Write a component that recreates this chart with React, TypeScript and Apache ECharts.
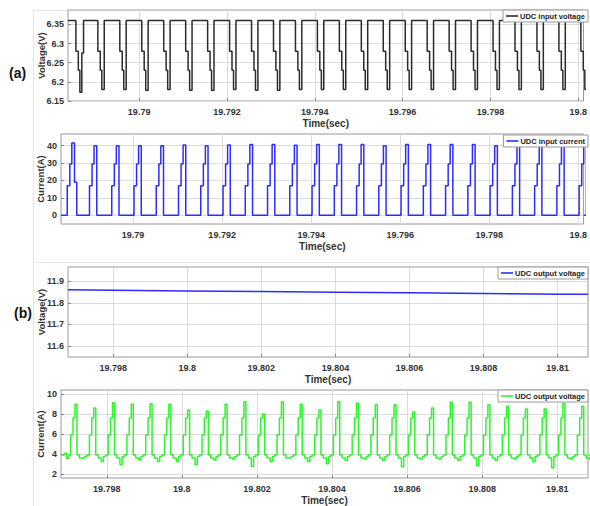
import React, { useEffect, useRef } from "react";
import * as echarts from "echarts";

const FONT = "'Liberation Sans', Arial, sans-serif";
const US = 1e-6;

// ---------- axes ----------
const xRangeA = [19.78838, 19.80012];
const xRangeB = [19.79678, 19.81082];
const xTicksA = [19.79, 19.792, 19.794, 19.796, 19.798, 19.8];
const xTicksB = [19.798, 19.8, 19.802, 19.804, 19.806, 19.808, 19.81];
const yRange1 = [6.15, 6.3875];
const yTicks1 = [6.15, 6.2, 6.25, 6.3, 6.35];
const yRange2 = [-5, 46.7];
const yTicks2 = [0, 10, 20, 30, 40];
const yRange3 = [11.549, 11.967];
const yTicks3 = [11.6, 11.7, 11.8, 11.9];
const yRange4 = [1.58, 10.42];
const yTicks4 = [2, 4, 6, 8, 10];

// ---------- (a) UDC input voltage ----------
const inVoltHigh = 6.36;
const inVoltStepLevels = [6.28, 6.23];
const inVoltStepUs = [0, 55, 90, 145]; // 6.28, 6.23, min, back to high
const inVoltDipStart = [
  19.78856, 19.78906, 19.78956, 19.79006, 19.79056, 19.79106, 19.79156, 19.79206,
  19.79256, 19.79306, 19.79356, 19.79406, 19.79456, 19.79506, 19.79556, 19.79606,
  19.79656, 19.79706, 19.79756, 19.79806, 19.79856, 19.79906, 19.79956, 19.80006,
];
const inVoltDipMin = [
  6.173, 6.18, 6.18, 6.178, 6.18, 6.178, 6.178, 6.18, 6.178, 6.178, 6.18, 6.18,
  6.18, 6.18, 6.18, 6.18, 6.18, 6.18, 6.18, 6.18, 6.18, 6.18, 6.18, 6.18,
];
const inVoltRecover = [6.275]; // only the first dip climbs back in two steps
const inVoltRecoverUs = [135, 174];

// ---------- (a) UDC input current ----------
const inCurStepLevels = [17, 29.5];
const inCurStepUs = [0, 58, 103, 163];
const inCurPulseStart = [
  19.78852, 19.78902, 19.78952, 19.79002, 19.79052, 19.79102, 19.79152, 19.79202,
  19.79252, 19.79302, 19.79352, 19.79402, 19.79452, 19.79502, 19.79552, 19.79602,
  19.79652, 19.79702, 19.79752, 19.79802, 19.79852, 19.79902, 19.79952, 19.80002,
];
const inCurPeak = [
  41.5, 40, 40, 40, 40, 40.4, 40, 40.4, 40.6, 40.6, 40.3, 40.6,
  40.6, 40.6, 40, 40.6, 40.6, 40.6, 40.6, 40, 39.6, 40, 39.6, 40,
];
const inCurFall = [19]; // first pulse steps down through 19 A
const inCurFallUs = [163, 214];

// ---------- (b) UDC output voltage ----------
const outVoltTime = [19.79678, 19.798, 19.8, 19.802, 19.804, 19.806, 19.808, 19.81, 19.81082];
const outVoltValue = [11.861, 11.859, 11.856, 11.853, 11.85, 11.847, 11.844, 11.841, 11.84];

// ---------- (b) output current ----------
const outCurLeadTime = [19.79678, 19.79687, 19.79693, 19.79699];
const outCurLead = [3.9, 4.05, 3.57, 3.9];
const outCurRiseLevels = [5.9, 7.6];
const outCurRiseUs = [-133, -71, -18, 36];
const outCurBaseUs = [36, 100, 180, 240, 300];
const outCurBaseLevels = [3.9, 3.6, 3.75, 3.9];
const outCurPeakTime = [
  19.79717, 19.79767, 19.79817, 19.79867, 19.79917, 19.79967, 19.80017, 19.80067,
  19.80117, 19.80167, 19.80217, 19.80267, 19.80317, 19.80367, 19.80417, 19.80467,
  19.80517, 19.80567, 19.80617, 19.80667, 19.80717, 19.80767, 19.80817, 19.80867,
  19.80917, 19.80967, 19.81017, 19.81067,
];
const outCurPeak = [
  9.0, 8.6, 9.15, 9.0, 9.05, 9.0, 8.4, 8.3, 9.0, 9.25, 8.0, 9.25, 9.0, 8.4,
  9.25, 9.1, 8.95, 8.95, 8.2, 8.6, 9.2, 9.2, 8.95, 8.8, 8.5, 8.5, 9.1, 8.8,
];
const outCurDip = [
  3.6, 3.25, 2.9, 3.4, 3.25, 3.25, 2.9, 3.4, 3.5, 2.75, 3.25, 3.6, 3.25, 3.0,
  3.35, 3.5, 3.35, 2.7, 3.5, 3.5, 3.35, 2.8, 3.35, 3.5, 3.2, 2.6, 3.5, 3.5,
];

function buildInVolt(): number[][] {
  const pts: number[][] = [[xRangeA[0], inVoltHigh]];
  inVoltDipStart.forEach((d, k) => {
    pts.push([d + inVoltStepUs[0] * US, inVoltStepLevels[0]]);
    pts.push([d + inVoltStepUs[1] * US, inVoltStepLevels[1]]);
    pts.push([d + inVoltStepUs[2] * US, inVoltDipMin[k]]);
    if (inVoltRecover[k] !== undefined) {
      pts.push([d + inVoltRecoverUs[0] * US, inVoltRecover[k]]);
      pts.push([d + inVoltRecoverUs[1] * US, inVoltHigh]);
    } else {
      pts.push([d + inVoltStepUs[3] * US, inVoltHigh]);
    }
  });
  pts.push([xRangeA[1], pts[pts.length - 1][1]]);
  return pts;
}

function buildInCur(): number[][] {
  const pts: number[][] = [[xRangeA[0], 0]];
  inCurPulseStart.forEach((s, k) => {
    pts.push([s + inCurStepUs[0] * US, inCurStepLevels[0]]);
    pts.push([s + inCurStepUs[1] * US, inCurStepLevels[1]]);
    pts.push([s + inCurStepUs[2] * US, inCurPeak[k]]);
    if (inCurFall[k] !== undefined) {
      pts.push([s + inCurFallUs[0] * US, inCurFall[k]]);
      pts.push([s + inCurFallUs[1] * US, 0]);
    } else {
      pts.push([s + inCurStepUs[3] * US, 0]);
    }
  });
  pts.push([xRangeA[1], pts[pts.length - 1][1]]);
  return pts;
}

function buildOutVolt(): number[][] {
  return outVoltTime.map((t, i) => [t, outVoltValue[i]]);
}

function buildOutCur(): number[][] {
  const pts: number[][] = outCurLeadTime.map((t, i) => [t, outCurLead[i]]);
  outCurPeakTime.forEach((p, k) => {
    pts.push([p + outCurRiseUs[0] * US, outCurRiseLevels[0]]);
    pts.push([p + outCurRiseUs[1] * US, outCurRiseLevels[1]]);
    pts.push([p + outCurRiseUs[2] * US, outCurPeak[k]]);
    pts.push([p + outCurBaseUs[0] * US, outCurBaseLevels[0]]);
    pts.push([p + outCurBaseUs[1] * US, outCurBaseLevels[1]]);
    pts.push([p + outCurBaseUs[2] * US, outCurDip[k]]);
    pts.push([p + outCurBaseUs[3] * US, outCurBaseLevels[2]]);
    pts.push([p + outCurBaseUs[4] * US, outCurBaseLevels[3]]);
  });
  pts.push([xRangeB[1], pts[pts.length - 1][1]]);
  return pts;
}

const fmt = (v: number) => String(parseFloat(Number(v).toFixed(4)));

const labelStyle = { fontSize: 9, fontWeight: "bold", color: "#333", fontFamily: FONT };
const nameStyle = { fontSize: 10, fontWeight: "bold", color: "#333", fontFamily: FONT };

function makeX(gridIndex: number, range: number[], ticks: number[]) {
  return {
    type: "value",
    gridIndex,
    min: range[0],
    max: range[1],
    name: "Time(sec)",
    nameLocation: "middle",
    nameGap: 17,
    nameMoveOverlap: false,
    nameTextStyle: nameStyle,
    axisLine: { show: false },
    axisTick: { show: true, inside: true, length: 3, customValues: ticks, lineStyle: { color: "#888" } },
    axisLabel: { ...labelStyle, margin: 6, customValues: ticks, formatter: fmt },
    splitLine: { show: true, lineStyle: { color: "#dcdcdc", width: 1 } },
  };
}

function makeY(gridIndex: number, range: number[], ticks: number[], name: string, gap: number) {
  return {
    type: "value",
    gridIndex,
    min: range[0],
    max: range[1],
    name,
    nameLocation: "middle",
    nameGap: gap,
    nameMoveOverlap: false,
    nameTextStyle: { ...nameStyle, fontSize: 9.5 },
    axisLine: { show: false },
    axisTick: { show: true, inside: true, length: 3, customValues: ticks, lineStyle: { color: "#888" } },
    axisLabel: { ...labelStyle, margin: 4, customValues: ticks, formatter: fmt },
    splitLine: { show: true, lineStyle: { color: "#dcdcdc", width: 1 } },
  };
}

function makeLegend(top: number, name: string, color: string) {
  return {
    top,
    right: 2,
    orient: "horizontal",
    selectedMode: false,
    icon: "rect",
    data: [{ name, icon: "rect", itemStyle: { color } }],
    itemWidth: 12,
    itemHeight: 1.6,
    padding: [2, 3, 2, 3],
    backgroundColor: "#fff",
    borderColor: "#9a9a9a",
    borderWidth: 1,
    borderRadius: 0,
    textStyle: { fontSize: 7.5, fontWeight: "bold", color: "#222", fontFamily: FONT, padding: [0, 0, 0, -3] },
  };
}

const gridBase = { show: true, borderColor: "#9a9a9a", borderWidth: 1, backgroundColor: "#fff" };

export default function App() {
  const ref = useRef<HTMLDivElement>(null);
  useEffect(() => {
    if (!ref.current) return;
    const chart = echarts.init(ref.current, undefined, { renderer: "svg" });
    const black = "#2b2b2b";
    const blue = "#2c2cff";
    const green = "#2cf52c";
    chart.setOption({
      animation: false,
      backgroundColor: "#fff",
      textStyle: { fontFamily: FONT },
      grid: [
        { ...gridBase, left: 68, top: 10, width: 520, height: 91 },
        { ...gridBase, left: 61, top: 134, width: 527, height: 90 },
        { ...gridBase, left: 68, top: 267, width: 520, height: 90 },
        { ...gridBase, left: 61, top: 390, width: 527, height: 90 },
      ],
      xAxis: [
        makeX(0, xRangeA, xTicksA),
        makeX(1, xRangeA, xTicksA),
        makeX(2, xRangeB, xTicksB),
        makeX(3, xRangeB, xTicksB),
      ],
      yAxis: [
        makeY(0, yRange1, yTicks1, "Voltage(V)", 22),
        makeY(1, yRange2, yTicks2, "Current(A)", 16),
        makeY(2, yRange3, yTicks3, "Voltage(V)", 22),
        makeY(3, yRange4, yTicks4, "Current(A)", 16),
      ],
      legend: [
        makeLegend(10, "UDC input voltage", black),
        makeLegend(135, "UDC input current", blue),
        makeLegend(267, "UDC output voltage", blue),
        makeLegend(390, "UDC output voltage", green),
      ],
      series: [
        {
          type: "line", name: "UDC input voltage", xAxisIndex: 0, yAxisIndex: 0,
          data: buildInVolt(), step: "end", symbol: "none",
          lineStyle: { color: black, width: 1.5 }, itemStyle: { color: black },
        },
        {
          type: "line", name: "UDC input current", xAxisIndex: 1, yAxisIndex: 1,
          data: buildInCur(), step: "end", symbol: "none",
          lineStyle: { color: blue, width: 1.5 }, itemStyle: { color: blue },
        },
        {
          type: "line", name: "UDC output voltage", xAxisIndex: 2, yAxisIndex: 2,
          data: buildOutVolt(), symbol: "none",
          lineStyle: { color: blue, width: 1.5 }, itemStyle: { color: blue },
        },
        {
          type: "line", name: "UDC output voltage", xAxisIndex: 3, yAxisIndex: 3,
          data: buildOutCur(), step: "end", symbol: "none",
          lineStyle: { color: green, width: 1.5 }, itemStyle: { color: green },
        },
      ],
      graphic: [
        { type: "line", shape: { x1: 33.5, y1: 10, x2: 33.5, y2: 506 }, style: { stroke: "#e6e6e6", lineWidth: 1 }, z: -1 },
        { type: "line", shape: { x1: 33, y1: 10.5, x2: 68, y2: 10.5 }, style: { stroke: "#e6e6e6", lineWidth: 1 }, z: -1 },
        { type: "line", shape: { x1: 33, y1: 262.5, x2: 590, y2: 262.5 }, style: { stroke: "#e6e6e6", lineWidth: 1 }, z: -1 },
        {
          type: "text", left: 9, top: 66,
          style: { text: "(a)", fontSize: 14, fontWeight: "bold", fill: "#111", fontFamily: FONT },
        },
        {
          type: "text", left: 14, top: 306,
          style: { text: "(b)", fontSize: 14, fontWeight: "bold", fill: "#111", fontFamily: FONT },
        },
      ],
    });
    return () => chart.dispose();
  }, []);
  return (
    <div
      ref={ref}
      style={{ position: "absolute", left: 0, top: 0, width: 590, height: 506, background: "#fff" }}
    />
  );
}
